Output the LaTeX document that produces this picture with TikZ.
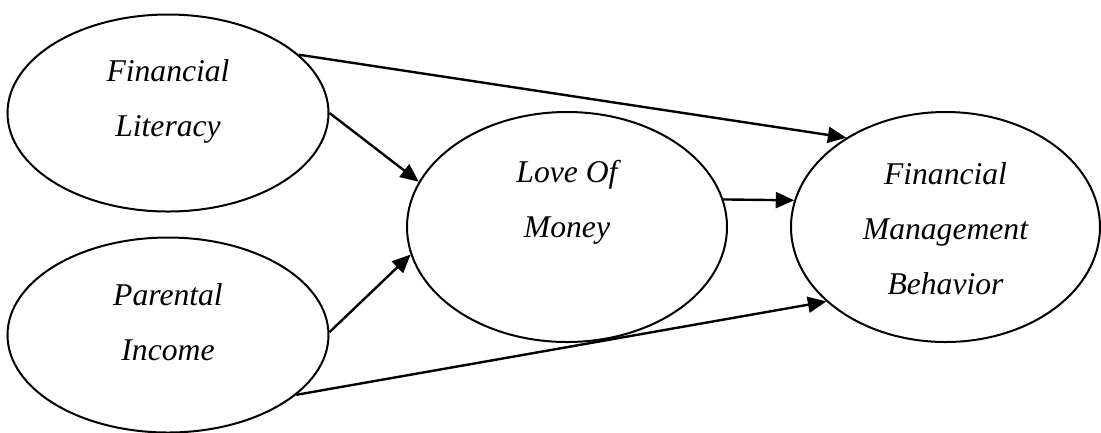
\documentclass[tikz,border=0pt]{standalone}
\usepackage{fontspec}
\setmainfont{Liberation Serif}
\usetikzlibrary{arrows.meta,shapes.geometric}
\tikzset{
  var/.style ={draw, ellipse, line width=0.5mm, inner sep=0pt},
  txt/.style ={align=center, font=\fontsize{22.5}{39}\selectfont\itshape},
  arr/.style ={-{Triangle[length=4.6mm,width=4mm]}, line width=0.6mm},
}
\begin{document}
\begin{tikzpicture}[x=0.25mm,y=-0.25mm]
  \useasboundingbox (0,0) rectangle (1101,432);
  % the four constructs
  \node[var, minimum width=80.25mm, minimum height=49.25mm] (fl)  at (168,113)   {};
  \node[var, minimum width=80.25mm, minimum height=48.75mm] (pi)  at (168,335)   {};
  \node[var, minimum width=80mm,    minimum height=57.5mm]  (lom) at (567,227)   {};
  \node[var, minimum width=77.25mm, minimum height=57.5mm]  (fmb) at (945.5,227) {};

  % their names, set a little above the centre as in the source
  \node[txt, yshift=2.9mm]  (flt)  at (fl)  {Financial\\Literacy};
  \node[txt, yshift=3.2mm]  (pit)  at (pi)  {Parental\\Income};
  \node[txt, yshift=6.1mm]  (lomt) at (lom) {Love Of\\Money};
  \node[txt, yshift=-0.4mm] (fmbt) at (fmb) {Financial\\Management\\Behavior};

  % paths
  \draw[arr] (fl.24)  -- (fmb.138);
  \draw[arr] (fl.0)   -- (lom.163);
  \draw[arr] (pi.1)   -- (lom.190);
  \draw[arr] (pi.-25) -- (fmb.212);
  \draw[arr] (lom.10) -- (fmb.170);
\end{tikzpicture}
\end{document}
